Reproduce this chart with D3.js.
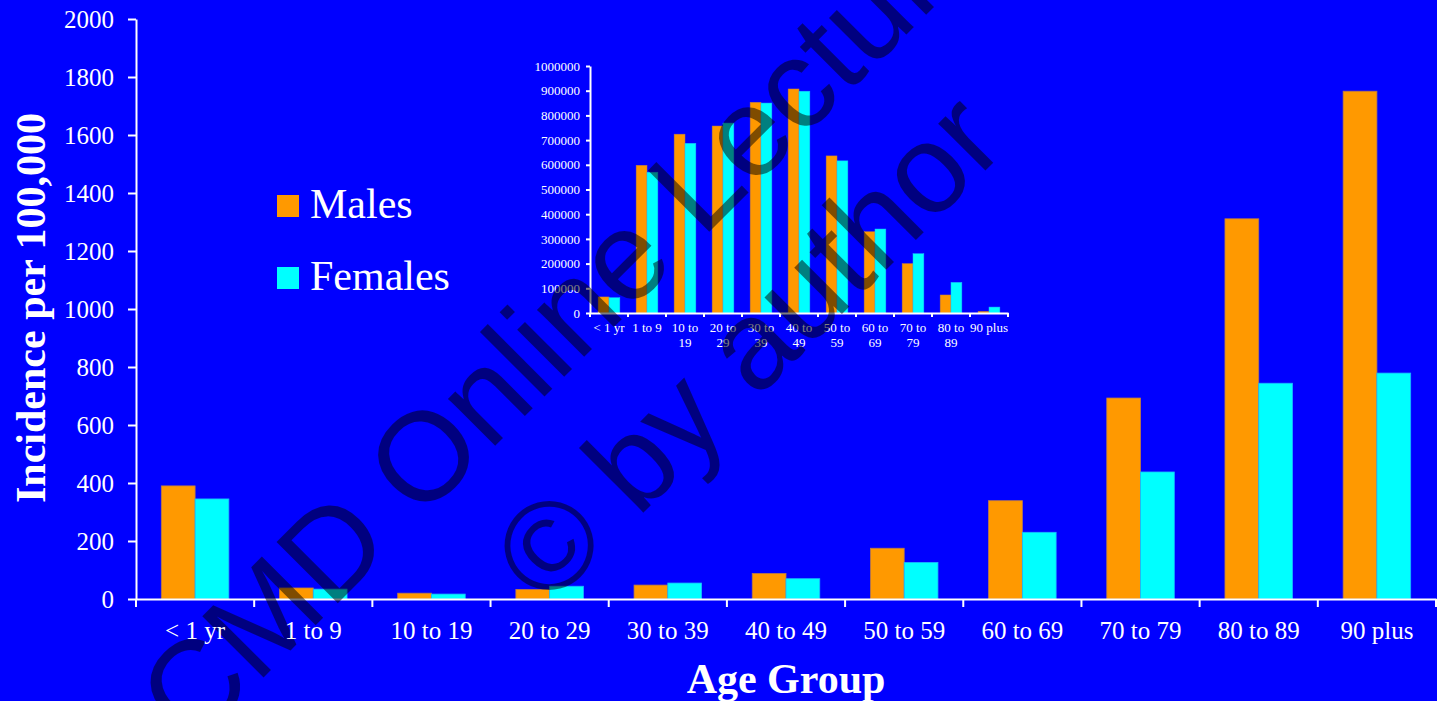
<!DOCTYPE html>
<html>
<head>
<meta charset="utf-8">
<script src="https://cdn.jsdelivr.net/npm/d3@7"></script>
<style>
  html, body { margin: 0; padding: 0; background: #0000ff; overflow: hidden; }
  svg { display: block; }
</style>
</head>
<body>
<svg id="chart" width="1437" height="701"></svg>
<script>
// Age groups shared by both charts
const ageGroups = ['< 1 yr', '1 to 9', '10 to 19', '20 to 29', '30 to 39', '40 to 49',
                   '50 to 59', '60 to 69', '70 to 79', '80 to 89', '90 plus'];
// Two-line labels used on the small population chart
const insetAgeLabels = [['< 1 yr'], ['1 to 9'], ['10 to', '19'], ['20 to', '29'], ['30 to', '39'],
                        ['40 to', '49'], ['50 to', '59'], ['60 to', '69'], ['70 to', '79'],
                        ['80 to', '89'], ['90 plus']];
const seriesNames = ['Males', 'Females'];

// Incidence per 100,000 by age group
const maleIncidence   = [390, 38, 20, 33, 48, 88, 175, 339, 693, 1311, 1751];
const femaleIncidence = [345, 34, 17, 44, 55, 70, 126, 230, 438, 744, 779];

// Population by age group (small chart)
const malePopulation   = [65000, 598000, 724000, 757000, 853000, 907000, 636000, 329000, 200000, 73000, 6500];
const femalePopulation = [62000, 570000, 687000, 769000, 850000, 898000, 616000, 340000, 240000, 124000, 24000];

// Tick values
const incidenceTicks  = [0, 200, 400, 600, 800, 1000, 1200, 1400, 1600, 1800, 2000];
const populationTicks = [0, 100000, 200000, 300000, 400000, 500000, 600000, 700000, 800000, 900000, 1000000];

const colors = { Males: '#ff9900', Females: '#00ffff' };
const strokes = { Males: '#b97a4a', Females: '#19b8ff' };

const svg = d3.select('#chart');
svg.append('rect').attr('width', 1437).attr('height', 701).attr('fill', '#0000ff');

// Layers, bottom to top
const barLayer   = svg.append('g');
const insetLayer = svg.append('g');
const lineLayer  = svg.append('g');
const markLayer  = svg.append('g');
const textLayer  = svg.append('g');

const serif = "'Liberation Serif', 'Times New Roman', serif";

function styleAxis(g, fontSize) {
  g.selectAll('.domain').attr('stroke', '#ffffff').attr('stroke-width', 2);
  g.selectAll('.tick line').attr('stroke', '#ffffff').attr('stroke-width', 2);
  g.selectAll('.tick text').attr('fill', '#ffffff')
    .style('font-family', serif).style('font-size', fontSize + 'px');
}

// ---------- Main chart: incidence ----------
const x0 = d3.scaleBand().domain(ageGroups).range([136, 1436]).paddingInner(0).paddingOuter(0);
const x1 = d3.scaleBand().domain(seriesNames).range([0, x0.bandwidth()]).paddingInner(0).paddingOuter(0.75);
const y = d3.scaleLinear().domain([0, 2000]).range([599, 19]);

const incidenceRows = ageGroups.map((g, i) => ({ group: g, Males: maleIncidence[i], Females: femaleIncidence[i] }));

barLayer.selectAll('g').data(incidenceRows).join('g')
  .attr('transform', d => `translate(${x0(d.group)},0)`)
  .selectAll('rect').data(d => seriesNames.map(s => ({ s, v: d[s] }))).join('rect')
    .attr('x', d => x1(d.s))
    .attr('width', x1.bandwidth())
    .attr('y', d => y(d.v))
    .attr('height', d => y(0) - y(d.v))
    .attr('fill', d => colors[d.s])
    .attr('stroke', d => strokes[d.s])
    .attr('stroke-width', 0.8);

// axis lines sit under the watermark, their labels above it
const yAxis = d3.axisLeft(y).tickValues(incidenceTicks).tickFormat(d3.format('d'))
  .tickSize(8).tickSizeOuter(0).tickPadding(14);
const yLines = lineLayer.append('g').attr('transform', 'translate(136,0)').call(yAxis);
yLines.selectAll('.tick text').remove();
styleAxis(yLines, 25);
const yLabels = textLayer.append('g').attr('transform', 'translate(136,0)').call(yAxis);
yLabels.selectAll('.domain, .tick line').remove();
styleAxis(yLabels, 25);

const xAxis = d3.axisBottom(x0).tickSize(0).tickPadding(22);
const xLines = lineLayer.append('g').attr('transform', 'translate(0,599)').call(xAxis);
xLines.selectAll('.tick').remove();
styleAxis(xLines, 25);
// tick marks sit on the category boundaries
xLines.selectAll('.boundary').data([...ageGroups.map(g => x0(g)), x0.range()[1]]).join('line')
  .attr('class', 'boundary')
  .attr('x1', d => d).attr('x2', d => d).attr('y1', 0).attr('y2', 8)
  .attr('stroke', '#ffffff').attr('stroke-width', 2);
const xLabels = textLayer.append('g').attr('transform', 'translate(0,599)').call(xAxis);
xLabels.selectAll('.domain, .tick line').remove();
styleAxis(xLabels, 25);

textLayer.append('text')
  .attr('x', 786).attr('y', 693).attr('text-anchor', 'middle')
  .attr('fill', '#ffffff').style('font-family', serif).style('font-weight', 'bold').style('font-size', '42px')
  .text('Age Group');

textLayer.append('text')
  .attr('transform', 'translate(45,308) rotate(-90)').attr('text-anchor', 'middle')
  .attr('fill', '#ffffff').style('font-family', serif).style('font-weight', 'bold').style('font-size', '42px')
  .text('Incidence per 100,000');

// ---------- Legend ----------
seriesNames.forEach((s, i) => {
  textLayer.append('rect').attr('x', 277).attr('y', 195 + i * 72).attr('width', 22).attr('height', 22)
    .attr('fill', colors[s]);
  textLayer.append('text').attr('x', 310).attr('y', 218 + i * 72)
    .attr('fill', '#ffffff').style('font-family', serif).style('font-size', '42px').text(s);
});

// ---------- Small chart: population ----------
const ix0 = d3.scaleBand().domain(ageGroups).range([590, 1008]).paddingInner(0).paddingOuter(0);
const ix1 = d3.scaleBand().domain(seriesNames).range([0, ix0.bandwidth()]).paddingInner(0).paddingOuter(0.75);
const iy = d3.scaleLinear().domain([0, 1000000]).range([313, 66]);

const populationRows = ageGroups.map((g, i) => ({ group: g, Males: malePopulation[i], Females: femalePopulation[i] }));

insetLayer.append('g').selectAll('g').data(populationRows).join('g')
  .attr('transform', d => `translate(${ix0(d.group)},0)`)
  .selectAll('rect').data(d => seriesNames.map(s => ({ s, v: d[s] }))).join('rect')
    .attr('x', d => ix1(d.s))
    .attr('width', ix1.bandwidth())
    .attr('y', d => iy(d.v))
    .attr('height', d => iy(0) - iy(d.v))
    .attr('fill', d => colors[d.s])
    .attr('stroke', d => strokes[d.s])
    .attr('stroke-width', 0.5);

const iyAxisG = insetLayer.append('g').attr('transform', 'translate(590,0)')
  .call(d3.axisLeft(iy).tickValues(populationTicks).tickFormat(d3.format('d'))
    .tickSize(4).tickSizeOuter(0).tickPadding(6));
styleAxis(iyAxisG, 13);

const ixAxisG = insetLayer.append('g').attr('transform', 'translate(0,313)')
  .call(d3.axisBottom(ix0).tickSize(0).tickFormat(() => ''));
styleAxis(ixAxisG, 13);
ixAxisG.selectAll('.boundary').data([...ageGroups.map(g => ix0(g)), ix0.range()[1]]).join('line')
  .attr('class', 'boundary')
  .attr('x1', d => d).attr('x2', d => d).attr('y1', 0).attr('y2', 4)
  .attr('stroke', '#ffffff').attr('stroke-width', 2);
ixAxisG.selectAll('.tick').each(function (d, i) {
  const t = d3.select(this).select('text').attr('y', 19).attr('dy', null);
  insetAgeLabels[i].forEach((line, j) => {
    t.append('tspan').attr('x', 0).attr('y', 19 + j * 15).text(line);
  });
});

// ---------- Watermark ----------
markLayer.attr('fill', '#000000').attr('fill-opacity', 0.5)
  .style('font-family', "'Liberation Sans', Arial, sans-serif").style('font-size', '126px');
markLayer.append('text').attr('transform', 'translate(192,749) rotate(-45)').text('CMD Online Lecture');
markLayer.append('text').attr('transform', 'translate(547,609) rotate(-45)').text('\u00a9 by author');
</script>
</body>
</html>
